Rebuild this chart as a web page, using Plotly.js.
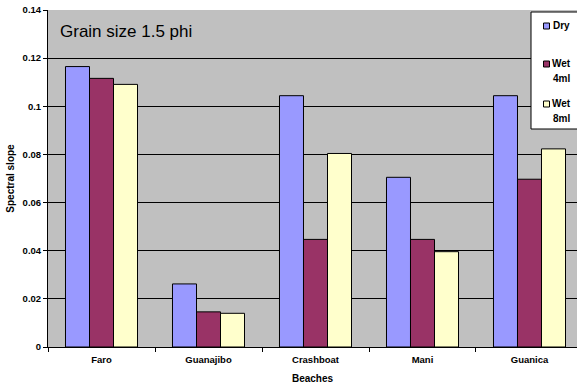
<!DOCTYPE html>
<html>
<head>
<meta charset="utf-8">
<script src="https://cdn.plot.ly/plotly-3.0.1.min.js"></script>
<style>
  html, body { margin: 0; padding: 0; overflow: hidden; background: #ffffff; }
  #chart { width: 577px; height: 388px; }
</style>
</head>
<body>
<div id="chart"></div>
<script>
// Beaches sampled and spectral slope for grain size 1.5 phi
const beaches = ["Faro", "Guanajibo", "Crashboat", "Mani", "Guanica"];
const dry   = [0.1165, 0.0262, 0.1044, 0.0705, 0.1044];
const wet4  = [0.1116, 0.0146, 0.0447, 0.0447, 0.0697];
const wet8  = [0.1091, 0.0140, 0.0804, 0.0396, 0.0823];
const seriesNames = ["Dry", "Wet<br>4ml", "Wet<br>8ml"];
const seriesColors = ["#9999ff", "#993366", "#ffffcc"];

const font = "Liberation Sans, Arial, sans-serif";
const seriesValues = [dry, wet4, wet8];

const W = 577, H = 388;
const M = { l: 48, r: 0, t: 10, b: 41 };
const plotW = W - M.l - M.r, plotH = H - M.t - M.b;
// pixel -> paper coordinate helpers (for the boxed key in the top-right corner)
const px = x => (x - M.l) / plotW;
const py = y => (H - M.b - y) / plotH;

const traces = seriesValues.map((vals, i) => ({
  type: "bar",
  name: seriesNames[i].replace("<br>", " "),
  x: beaches,
  y: vals,
  marker: { color: seriesColors[i], line: { color: "#000000", width: 1 } },
  hoverinfo: "x+y"
}));

// Key: white box, small swatches and bold labels
const shapes = [{
  type: "rect", xref: "paper", yref: "paper",
  x0: px(531), x1: px(590), y0: py(129), y1: py(12),
  fillcolor: "#ffffff", line: { color: "#000000", width: 1 }
}];
const annotations = [{
  text: "Grain size 1.5 phi",
  xref: "paper", yref: "paper",
  x: px(58), xanchor: "left",
  y: py(31), yanchor: "middle",
  showarrow: false,
  font: { family: font, size: 17, color: "#000000" }
}];
const keyRowY = [26, 64, 104];
seriesNames.forEach((name, i) => {
  const yc = keyRowY[i];
  shapes.push({
    type: "rect", xref: "paper", yref: "paper",
    x0: px(543.5), x1: px(549.5), y0: py(yc + 3), y1: py(yc - 3),
    fillcolor: seriesColors[i], line: { color: "#000000", width: 1 }
  });
  name.split("<br>").forEach((line, j) => {
    annotations.push({
      text: line,
      xref: "paper", yref: "paper",
      x: px(561), xanchor: "center",
      y: py(yc + j * 15), yanchor: "middle",
      showarrow: false,
      font: { family: font, size: 10, weight: "bold", color: "#000000" }
    });
  });
});

const layout = {
  width: W,
  height: H,
  margin: { l: M.l, r: M.r, t: M.t, b: M.b, autoexpand: false },
  paper_bgcolor: "#ffffff",
  plot_bgcolor: "#c0c0c0",
  barmode: "group",
  bargap: 0.327,
  bargroupgap: 0,
  showlegend: false,
  xaxis: {
    type: "category",
    range: [-0.5, 4.444],
    showline: true,
    linecolor: "#000000",
    linewidth: 1,
    ticks: "outside",
    tickson: "boundaries",
    ticklen: 4,
    tickcolor: "#000000",
    ticklabelstandoff: 4,
    showgrid: false,
    tickfont: { family: font, size: 9.5, weight: "bold", color: "#000000" },
    title: { text: "Beaches", font: { family: font, size: 10, weight: "bold", color: "#000000" }, standoff: 10 }
  },
  yaxis: {
    range: [0, 0.14],
    dtick: 0.02,
    showline: true,
    linecolor: "#000000",
    linewidth: 1,
    ticks: "outside",
    ticklen: 4,
    tickcolor: "#000000",
    showgrid: true,
    gridcolor: "#000000",
    gridwidth: 1,
    zeroline: false,
    tickfont: { family: font, size: 9.5, weight: "bold", color: "#000000" },
    title: { text: "Spectral slope", font: { family: font, size: 10, weight: "bold", color: "#000000" }, standoff: 6 }
  },
  shapes: shapes,
  annotations: annotations
};

Plotly.newPlot("chart", traces, layout, { displayModeBar: false, staticPlot: true });
</script>
</body>
</html>
